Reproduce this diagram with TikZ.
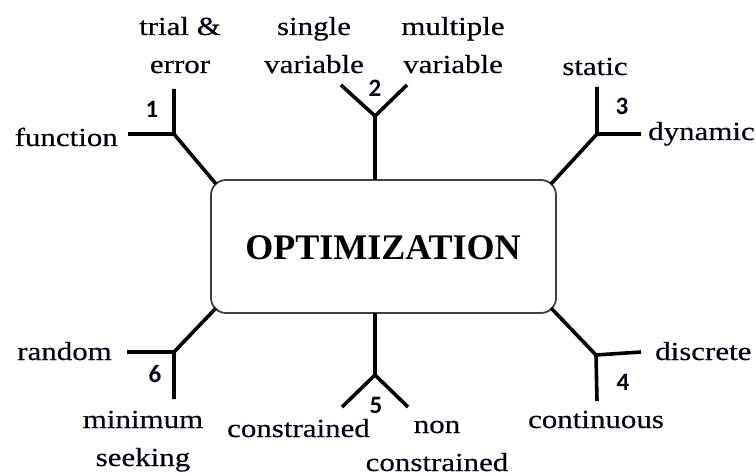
\documentclass[tikz,border=0pt]{standalone}
\usepackage{fontspec}
\setmainfont{Liberation Serif}[FakeStretch=1.19,FakeBold=0.4]
\newfontfamily\titlefont{Liberation Serif}
\newfontfamily\numfont{Carlito}
\begin{document}
\begin{tikzpicture}[x=1pt,y=-1pt,
  branch/.style={line width=3.6pt,black},
  lbl/.style={inner sep=0pt,anchor=base,align=center,text=black!92!blue,
    font=\fontsize{26}{38}\selectfont},
  num/.style={inner sep=0pt,anchor=base,text=black!92!blue,
    font=\numfont\bfseries\fontsize{25}{28}\selectfont},
  hub/.style={draw=black!75,line width=1.8pt,rounded corners=15pt,fill=white,
    minimum width=345pt,minimum height=133pt,inner sep=0pt}]
\useasboundingbox (0,0) rectangle (756,476);

% central box
\node[hub] (opt) at (383.5,246.5) {};
\node[inner sep=0pt,anchor=base,font=\titlefont\bfseries\fontsize{36}{38}\selectfont]
  (title) at (383,260) {OPTIMIZATION};

% attachment points on the box outline
\coordinate (a1) at (216,184);
\coordinate (a2) at (375,180);
\coordinate (a3) at (551,184);
\coordinate (a4) at (551,308);
\coordinate (a5) at (375,313);
\coordinate (a6) at (216,308);

% branch 1 (multi-line labels are placed by their last baseline)
\coordinate (j1) at (174,134);
\coordinate (e1a) at (174,89);
\coordinate (e1b) at (128,134);
\draw[branch] (a1) -- (j1) (e1a) -- (j1) -- (e1b);
\node[num] (n1) at (152,118) {1};
\node[lbl] (t1a) at (180,73) {trial \&\\error};
\node[lbl,anchor=base east] (t1b) at (118,146) {function};

% branch 2
\coordinate (j2) at (375,116);
\coordinate (e2a) at (341,85);
\coordinate (e2b) at (407,85);
\draw[branch] (a2) -- (j2) (e2a) -- (j2) -- (e2b);
\node[num] (n2) at (375,97) {2};
\node[lbl] (t2a) at (314,73) {single\\variable};
\node[lbl] (t2b) at (453,73) {multiple\\variable};

% branch 3
\coordinate (j3) at (597,134);
\coordinate (e3a) at (597,87);
\coordinate (e3b) at (641,134);
\draw[branch] (a3) -- (j3) (e3a) -- (j3) -- (e3b);
\node[num] (n3) at (622,115) {3};
\node[lbl] (t3a) at (595,75) {static};
\node[lbl,anchor=base west] (t3b) at (648,140) {dynamic};

% branch 4
\coordinate (j4) at (596,355);
\coordinate (e4a) at (641,352);
\coordinate (e4b) at (597,401);
\draw[branch] (a4) -- (j4) (e4a) -- (j4) -- (e4b);
\node[num] (n4) at (623,390) {4};
\node[lbl,anchor=base west] (t4a) at (655,360) {discrete};
\node[lbl] (t4b) at (596,428) {continuous};

% branch 5
\coordinate (j5) at (375,375);
\coordinate (e5a) at (342,407);
\coordinate (e5b) at (408,407);
\draw[branch] (a5) -- (j5) (e5a) -- (j5) -- (e5b);
\node[num] (n5) at (376,413) {5};
\node[lbl,anchor=base east] (t5a) at (370,437) {constrained};
\node[lbl] (t5b) at (437,471) {non\\constrained};

% branch 6
\coordinate (j6) at (174,352);
\coordinate (e6a) at (127,352);
\coordinate (e6b) at (174,399);
\draw[branch] (a6) -- (j6) (e6a) -- (j6) -- (e6b);
\node[num] (n6) at (155,382) {6};
\node[lbl,anchor=base east] (t6a) at (112,360) {random};
\node[lbl] (t6b) at (143,466) {minimum\\seeking};
\end{tikzpicture}
\end{document}
